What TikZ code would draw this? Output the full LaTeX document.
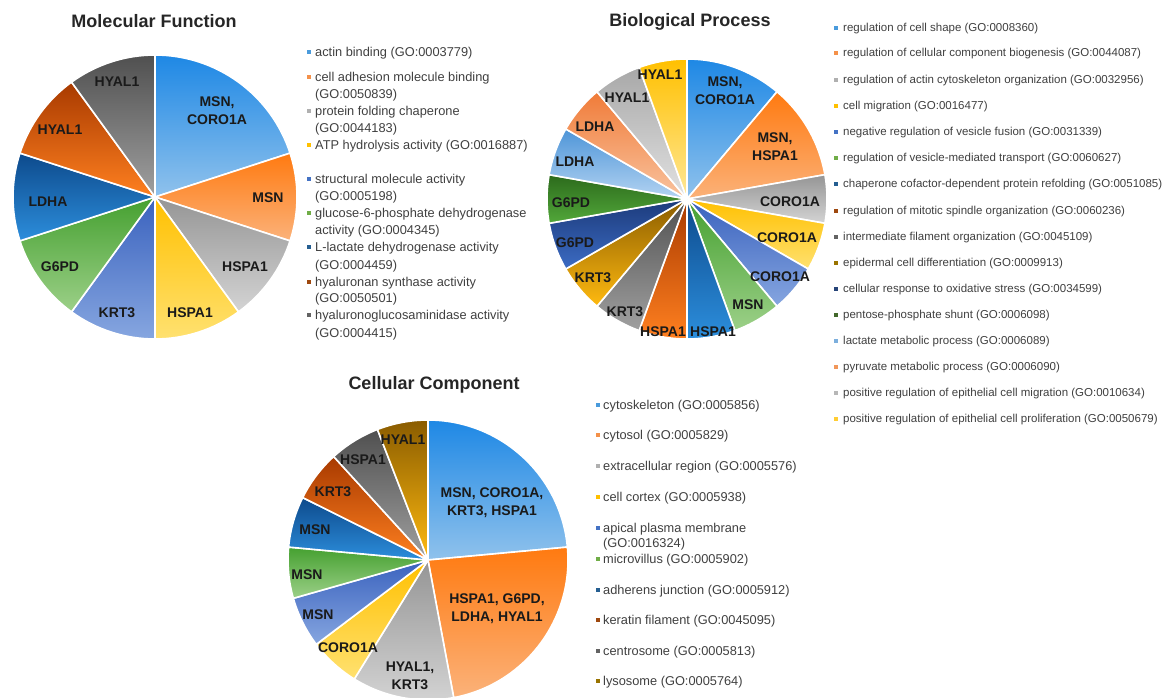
\documentclass[tikz,border=0pt]{standalone}
\usepackage{fontspec}
\setmainfont{Liberation Sans}
\definecolor{cA1}{HTML}{1E88E5}\definecolor{cA2}{HTML}{90C2EC}
\definecolor{cB1}{HTML}{FF7A10}\definecolor{cB2}{HTML}{FBB27A}
\definecolor{cC1}{HTML}{959595}\definecolor{cC2}{HTML}{D4D4D4}
\definecolor{cD1}{HTML}{FFC000}\definecolor{cD2}{HTML}{FFE170}
\definecolor{cE1}{HTML}{3A62BE}\definecolor{cE2}{HTML}{86A6E0}
\definecolor{cF1}{HTML}{45A030}\definecolor{cF2}{HTML}{9CD088}
\definecolor{cG1}{HTML}{0D4A8C}\definecolor{cG2}{HTML}{2C8EDC}
\definecolor{cH1}{HTML}{A83A00}\definecolor{cH2}{HTML}{FF8020}
\definecolor{cI1}{HTML}{505050}\definecolor{cI2}{HTML}{A0A0A0}
\definecolor{cJ1}{HTML}{8A5C00}\definecolor{cJ2}{HTML}{FFBA10}
\definecolor{cK1}{HTML}{1C3A7A}\definecolor{cK2}{HTML}{3C6CC4}
\definecolor{cL1}{HTML}{2C6A1C}\definecolor{cL2}{HTML}{52A83A}
\definecolor{cM1}{HTML}{4E95D8}\definecolor{cM2}{HTML}{B4D4F2}
\definecolor{cN1}{HTML}{F07B38}\definecolor{cN2}{HTML}{F9C4A0}
\definecolor{cO1}{HTML}{A8A8A8}\definecolor{cO2}{HTML}{E2E2E2}
\definecolor{cP1}{HTML}{FFC000}\definecolor{cP2}{HTML}{FFE898}
\definecolor{mA}{HTML}{4A9BDC}\definecolor{mB}{HTML}{F4914A}
\definecolor{mC}{HTML}{B0B0B0}\definecolor{mD}{HTML}{FFC000}
\definecolor{mE}{HTML}{4472C4}\definecolor{mF}{HTML}{70AD47}
\definecolor{mG}{HTML}{255E91}\definecolor{mH}{HTML}{9E480E}
\definecolor{mI}{HTML}{636363}\definecolor{mJ}{HTML}{997300}
\definecolor{mK}{HTML}{264478}\definecolor{mL}{HTML}{43682B}
\definecolor{mM}{HTML}{7CAFDD}\definecolor{mN}{HTML}{F1975A}
\definecolor{mO}{HTML}{B7B7B7}\definecolor{mP}{HTML}{FFCD33}
\definecolor{lbltxt}{HTML}{1A1A1A}
\definecolor{legtxt}{HTML}{404040}
\definecolor{ttltxt}{HTML}{262626}
\newcommand\pslice[6]{\path[draw=white,line width=1.6pt,line join=round,top color=#5,bottom color=#6]
  (#1) -- ([shift={(#3:#2pt)}]#1) arc[start angle=#3,end angle=#4,radius=#2pt] -- cycle;}
\begin{document}
\begin{tikzpicture}[x=1pt,y=-1pt,
  ttl/.style={font=\fontsize{18}{21}\selectfont\bfseries,text=ttltxt,inner sep=0pt},
  lbl/.style={font=\fontsize{14}{18}\selectfont\bfseries,text=lbltxt,inner sep=0pt,align=center},
  lgA/.style={font=\fontsize{12.8}{17}\selectfont,text=legtxt,inner sep=0pt,anchor=base west,yshift=-4.2pt},
  lgB/.style={font=\fontsize{11.5}{14}\selectfont,text=legtxt,inner sep=0pt,anchor=base west,yshift=-3.8pt},
  mk/.style={minimum size=4.8pt,inner sep=0pt,draw=none}]
\useasboundingbox[fill=white] (0,0) rectangle (1175,698);
% ---------------- Molecular Function
\coordinate (mfc) at (155,197);
\pslice{mfc}{142}{90}{18}{cA1}{cA2}
\pslice{mfc}{142}{18}{-18}{cB1}{cB2}
\pslice{mfc}{142}{-18}{-54}{cC1}{cC2}
\pslice{mfc}{142}{-54}{-90}{cD1}{cD2}
\pslice{mfc}{142}{-90}{-126}{cE1}{cE2}
\pslice{mfc}{142}{-126}{-162}{cF1}{cF2}
\pslice{mfc}{142}{-162}{-198}{cG1}{cG2}
\pslice{mfc}{142}{-198}{-234}{cH1}{cH2}
\pslice{mfc}{142}{-234}{-270}{cI1}{cI2}
\node[ttl] (mft) at (154,21) {Molecular Function};
\node[lbl] (mf1) at (217,111) {MSN,\\CORO1A};
\node[lbl] (mf2) at (268,198) {MSN};
\node[lbl] (mf3) at (245,267) {HSPA1};
\node[lbl] (mf4) at (190,313) {HSPA1};
\node[lbl] (mf5) at (117,313) {KRT3};
\node[lbl] (mf6) at (60,267) {G6PD};
\node[lbl] (mf7) at (48,202) {LDHA};
\node[lbl] (mf8) at (60,130) {HYAL1};
\node[lbl] (mf9) at (117,82) {HYAL1};
% legend MF
\node[mk,fill=mA] (mfm1) at (309,52) {};
\node[lgA] (mfl1) at (315,52) {actin binding (GO:0003779)};
\node[mk,fill=mB] (mfm2) at (309,77) {};
\node[lgA] (mfl2) at (315,77) {cell adhesion molecule binding};
\node[lgA] (mfl2b) at (315,94) {(GO:0050839)};
\node[mk,fill=mC] (mfm3) at (309,111) {};
\node[lgA] (mfl3) at (315,111) {protein folding chaperone};
\node[lgA] (mfl3b) at (315,128) {(GO:0044183)};
\node[mk,fill=mD] (mfm4) at (309,145) {};
\node[lgA] (mfl4) at (315,145) {ATP hydrolysis activity (GO:0016887)};
\node[mk,fill=mE] (mfm5) at (309,179) {};
\node[lgA] (mfl5) at (315,179) {structural molecule activity};
\node[lgA] (mfl5b) at (315,196) {(GO:0005198)};
\node[mk,fill=mF] (mfm6) at (309,213) {};
\node[lgA] (mfl6) at (315,213) {glucose-6-phosphate dehydrogenase};
\node[lgA] (mfl6b) at (315,230) {activity (GO:0004345)};
\node[mk,fill=mG] (mfm7) at (309,247) {};
\node[lgA] (mfl7) at (315,247) {L-lactate dehydrogenase activity};
\node[lgA] (mfl7b) at (315,265) {(GO:0004459)};
\node[mk,fill=mH] (mfm8) at (309,282) {};
\node[lgA] (mfl8) at (315,282) {hyaluronan synthase activity};
\node[lgA] (mfl8b) at (315,298) {(GO:0050501)};
\node[mk,fill=mI] (mfm9) at (309,315) {};
\node[lgA] (mfl9) at (315,315) {hyaluronoglucosaminidase activity};
\node[lgA] (mfl9b) at (315,333) {(GO:0004415)};
% ---------------- Biological Process
\coordinate (bpc) at (687,199);
\pslice{bpc}{140}{90}{50}{cA1}{cA2}
\pslice{bpc}{140}{50}{10}{cB1}{cB2}
\pslice{bpc}{140}{10}{-10}{cC1}{cC2}
\pslice{bpc}{140}{-10}{-30}{cD1}{cD2}
\pslice{bpc}{140}{-30}{-50}{cE1}{cE2}
\pslice{bpc}{140}{-50}{-70}{cF1}{cF2}
\pslice{bpc}{140}{-70}{-90}{cG1}{cG2}
\pslice{bpc}{140}{-90}{-110}{cH1}{cH2}
\pslice{bpc}{140}{-110}{-130}{cI1}{cI2}
\pslice{bpc}{140}{-130}{-150}{cJ1}{cJ2}
\pslice{bpc}{140}{-150}{-170}{cK1}{cK2}
\pslice{bpc}{140}{-170}{-190}{cL1}{cL2}
\pslice{bpc}{140}{-190}{-210}{cM1}{cM2}
\pslice{bpc}{140}{-210}{-230}{cN1}{cN2}
\pslice{bpc}{140}{-230}{-250}{cO1}{cO2}
\pslice{bpc}{140}{-250}{-270}{cP1}{cP2}
\node[ttl] (bpt) at (690,22) {Biological Process};
\node[lbl] (bp1) at (725,91) {MSN,\\CORO1A};
\node[lbl] (bp2) at (775,147) {MSN,\\HSPA1};
\node[lbl] (bp3) at (790,202) {CORO1A};
\node[lbl] (bp4) at (787,238) {CORO1A};
\node[lbl] (bp5) at (780,277) {CORO1A};
\node[lbl] (bp6) at (748,305) {MSN};
\node[lbl] (bp7) at (713,332) {HSPA1};
\node[lbl] (bp8) at (663,332) {HSPA1};
\node[lbl] (bp9) at (625,312) {KRT3};
\node[lbl] (bp10) at (593,278) {KRT3};
\node[lbl] (bp11) at (575,243) {G6PD};
\node[lbl] (bp12) at (571,203) {G6PD};
\node[lbl] (bp13) at (575,162) {LDHA};
\node[lbl] (bp14) at (595,127) {LDHA};
\node[lbl] (bp15) at (627,98) {HYAL1};
\node[lbl] (bp16) at (660,75) {HYAL1};
% legend BP
\node[mk,fill=mA] (bpm1) at (836,28) {};
\node[lgB] (bpl1) at (843,28) {regulation of cell shape (GO:0008360)};
\node[mk,fill=mB] (bpm2) at (836,53) {};
\node[lgB] (bpl2) at (843,53) {regulation of cellular component biogenesis (GO:0044087)};
\node[mk,fill=mC] (bpm3) at (836,80) {};
\node[lgB] (bpl3) at (843,80) {regulation of actin cytoskeleton organization (GO:0032956)};
\node[mk,fill=mD] (bpm4) at (836,106) {};
\node[lgB] (bpl4) at (843,106) {cell migration (GO:0016477)};
\node[mk,fill=mE] (bpm5) at (836,132) {};
\node[lgB] (bpl5) at (843,132) {negative regulation of vesicle fusion (GO:0031339)};
\node[mk,fill=mF] (bpm6) at (836,158) {};
\node[lgB] (bpl6) at (843,158) {regulation of vesicle-mediated transport (GO:0060627)};
\node[mk,fill=mG] (bpm7) at (836,184) {};
\node[lgB] (bpl7) at (843,184) {chaperone cofactor-dependent protein refolding (GO:0051085)};
\node[mk,fill=mH] (bpm8) at (836,211) {};
\node[lgB] (bpl8) at (843,211) {regulation of mitotic spindle organization (GO:0060236)};
\node[mk,fill=mI] (bpm9) at (836,237) {};
\node[lgB] (bpl9) at (843,237) {intermediate filament organization (GO:0045109)};
\node[mk,fill=mJ] (bpm10) at (836,263) {};
\node[lgB] (bpl10) at (843,263) {epidermal cell differentiation (GO:0009913)};
\node[mk,fill=mK] (bpm11) at (836,289) {};
\node[lgB] (bpl11) at (843,289) {cellular response to oxidative stress (GO:0034599)};
\node[mk,fill=mL] (bpm12) at (836,315) {};
\node[lgB] (bpl12) at (843,315) {pentose-phosphate shunt (GO:0006098)};
\node[mk,fill=mM] (bpm13) at (836,341) {};
\node[lgB] (bpl13) at (843,341) {lactate metabolic process (GO:0006089)};
\node[mk,fill=mN] (bpm14) at (836,367) {};
\node[lgB] (bpl14) at (843,367) {pyruvate metabolic process (GO:0006090)};
\node[mk,fill=mO] (bpm15) at (836,393) {};
\node[lgB] (bpl15) at (843,393) {positive regulation of epithelial cell migration (GO:0010634)};
\node[mk,fill=mP] (bpm16) at (836,419) {};
\node[lgB] (bpl16) at (843,419) {positive regulation of epithelial cell proliferation (GO:0050679)};
% ---------------- Cellular Component
\coordinate (ccc) at (428,560);
\pslice{ccc}{140}{90}{5.294}{cA1}{cA2}
\pslice{ccc}{140}{5.294}{-79.412}{cB1}{cB2}
\pslice{ccc}{140}{-79.412}{-121.765}{cC1}{cC2}
\pslice{ccc}{140}{-121.765}{-142.941}{cD1}{cD2}
\pslice{ccc}{140}{-142.941}{-164.118}{cE1}{cE2}
\pslice{ccc}{140}{-164.118}{-185.294}{cF1}{cF2}
\pslice{ccc}{140}{-185.294}{-206.471}{cG1}{cG2}
\pslice{ccc}{140}{-206.471}{-227.647}{cH1}{cH2}
\pslice{ccc}{140}{-227.647}{-248.824}{cI1}{cI2}
\pslice{ccc}{140}{-248.824}{-270}{cJ1}{cJ2}
\node[ttl] (cct) at (434,385) {Cellular Component};
\node[lbl] (cc1) at (492,503) {MSN, CORO1A,\\KRT3, HSPA1};
\node[lbl] (cc2) at (497,609) {HSPA1, G6PD,\\LDHA, HYAL1};
\node[lbl] (cc3) at (410,676) {HYAL1,\\KRT3};
\node[lbl] (cc4) at (348,648) {CORO1A};
\node[lbl] (cc5) at (318,615) {MSN};
\node[lbl] (cc6) at (307,575) {MSN};
\node[lbl] (cc7) at (315,530) {MSN};
\node[lbl] (cc8) at (333,492) {KRT3};
\node[lbl] (cc9) at (363,460) {HSPA1};
\node[lbl] (cc10) at (403,440) {HYAL1};
% legend CC
\node[mk,fill=mA] (ccm1) at (598,405) {};
\node[lgA] (ccl1) at (603,405) {cytoskeleton (GO:0005856)};
\node[mk,fill=mB] (ccm2) at (598,435) {};
\node[lgA] (ccl2) at (603,435) {cytosol (GO:0005829)};
\node[mk,fill=mC] (ccm3) at (598,466) {};
\node[lgA] (ccl3) at (603,466) {extracellular region (GO:0005576)};
\node[mk,fill=mD] (ccm4) at (598,497) {};
\node[lgA] (ccl4) at (603,497) {cell cortex (GO:0005938)};
\node[mk,fill=mE] (ccm5) at (598,528) {};
\node[lgA] (ccl5) at (603,528) {apical plasma membrane};
\node[lgA] (ccl5b) at (603,543) {(GO:0016324)};
\node[mk,fill=mF] (ccm6) at (598,559) {};
\node[lgA] (ccl6) at (603,559) {microvillus (GO:0005902)};
\node[mk,fill=mG] (ccm7) at (598,590) {};
\node[lgA] (ccl7) at (603,590) {adherens junction (GO:0005912)};
\node[mk,fill=mH] (ccm8) at (598,620) {};
\node[lgA] (ccl8) at (603,620) {keratin filament (GO:0045095)};
\node[mk,fill=mI] (ccm9) at (598,651) {};
\node[lgA] (ccl9) at (603,651) {centrosome (GO:0005813)};
\node[mk,fill=mJ] (ccm10) at (598,681) {};
\node[lgA] (ccl10) at (603,681) {lysosome (GO:0005764)};
\end{tikzpicture}
\end{document}
